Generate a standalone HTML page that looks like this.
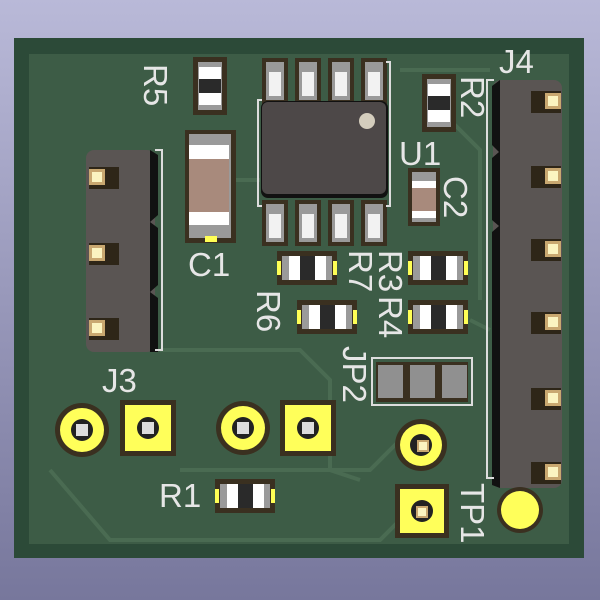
<!DOCTYPE html>
<html><head><meta charset="utf-8"><style>
html,body{margin:0;padding:0;width:600px;height:600px;overflow:hidden}
svg{display:block}
text{font-family:"Liberation Sans",sans-serif;fill:#e6e6e6;font-size:33px}
</style></head><body>
<svg width="600" height="600" viewBox="0 0 600 600">
<defs>
<linearGradient id="bg" x1="0" y1="0" x2="0" y2="1"><stop offset="0" stop-color="#b9b9d8"/><stop offset="1" stop-color="#77779c"/></linearGradient>
<g id="rv"><rect x="0" y="0" width="34" height="58" fill="#3a3020"/><rect x="5" y="5" width="24" height="48" fill="#9a9a9a"/><rect x="6" y="10" width="22" height="12" fill="#fff"/><rect x="6" y="22" width="22" height="14" fill="#2a2a2a"/><rect x="6" y="36" width="22" height="12" fill="#fff"/></g>
<g id="rh"><rect x="0" y="0" width="60" height="34" fill="#3a3020"/><rect x="5" y="5" width="50" height="24" fill="#9a9a9a"/><rect x="12" y="5" width="11" height="24" fill="#fff"/><rect x="23" y="5" width="15" height="24" fill="#2a2a2a"/><rect x="38" y="5" width="11" height="24" fill="#fff"/><rect x="0" y="10" width="4" height="14" fill="#ffff55"/><rect x="56" y="10" width="4" height="14" fill="#ffff55"/></g>
<g id="pin"><rect x="0" y="0" width="26" height="46" fill="#3a3020"/><rect x="4" y="4" width="18" height="38" fill="#9a9a9a"/><rect x="7" y="14" width="12" height="24" fill="#f2f2f2"/></g>
<g id="hp"><rect x="-8" y="-10" width="30" height="22" fill="#2e2618"/><rect x="-8" y="-8" width="16" height="16" fill="#c9a870"/><rect x="-5" y="-5" width="10" height="10" fill="#fbf4c0"/></g>
<g id="hpr"><rect x="-22" y="-10" width="30" height="22" fill="#2e2618"/><rect x="-8" y="-8" width="16" height="16" fill="#c9a870"/><rect x="-5" y="-5" width="10" height="10" fill="#fbf4c0"/></g>
</defs>
<rect width="600" height="600" fill="url(#bg)"/>
<rect x="14" y="38" width="570" height="520" fill="#2c4a38"/>
<rect x="29" y="54" width="540" height="490" fill="#3d5c46"/>
<g stroke="#4a6b52" stroke-width="4" fill="none">
<path d="M160 350 L300 350 L330 380 L330 470 L360 480"/>
<path d="M50 470 L110 540 L380 540 L420 500"/>
<path d="M180 470 L370 470 L400 440"/>
<path d="M236 180 L260 180"/>
<path d="M440 110 L480 150 L480 300"/>
<path d="M470 320 L490 330"/>
<path d="M400 70 L490 70"/>
</g>
<!-- J3 -->
<rect x="86" y="150" width="69" height="202" rx="8" fill="#5a5553"/>
<path d="M150 150 L158 155 L158 215 L150 222 L158 228 L158 285 L150 292 L158 298 L158 352 L150 352 Z" fill="#111"/>
<path d="M155 150 L162 150 L162 350 L155 350" stroke="#ddd" stroke-width="2" fill="none"/>
<use href="#hp" x="97" y="177"/><use href="#hp" x="97" y="253"/><use href="#hp" x="97" y="328"/>
<!-- R5 -->
<use href="#rv" x="193" y="57"/>
<!-- C1 -->
<rect x="185" y="130" width="51" height="113" fill="#3a3020"/>
<rect x="189" y="134" width="42" height="104" fill="#9a9a9a"/>
<rect x="189" y="145" width="40" height="14" fill="#fff"/>
<rect x="189" y="159" width="40" height="53" fill="#a88a7c"/>
<rect x="189" y="212" width="40" height="13" fill="#fff"/>
<rect x="205" y="236" width="12" height="6" fill="#ffff55"/>
<!-- U1 -->
<use href="#pin" x="262" y="58"/><use href="#pin" x="295" y="58"/><use href="#pin" x="328" y="58"/><use href="#pin" x="361" y="58"/>
<use href="#pin" x="262" y="200"/><use href="#pin" x="295" y="200"/><use href="#pin" x="328" y="200"/><use href="#pin" x="361" y="200"/>
<path d="M262 100 L258 100 L258 206 L262 206 M386 62 L390 62 L390 206 L386 206" stroke="#ddd" stroke-width="2" fill="none"/>
<rect x="261" y="101" width="127" height="97" rx="7" fill="#111"/>
<rect x="262" y="102" width="124" height="92" rx="6" fill="#4d4848"/>
<circle cx="367" cy="121" r="8" fill="#d4cdbd"/>
<!-- R2 -->
<use href="#rv" x="422" y="74"/>
<!-- C2 -->
<rect x="408" y="168" width="32" height="58" fill="#3a3020"/>
<rect x="412" y="172" width="24" height="50" fill="#9a9a9a"/>
<rect x="412" y="181" width="24" height="7" fill="#fff"/>
<rect x="412" y="188" width="24" height="23" fill="#a88a7c"/>
<rect x="412" y="211" width="24" height="7" fill="#fff"/>
<!-- R7 R3 R6 R4 -->
<use href="#rh" x="277" y="251"/>
<use href="#rh" x="408" y="251"/>
<use href="#rh" x="297" y="300"/>
<use href="#rh" x="408" y="300"/>
<!-- JP2 -->
<rect x="372" y="358" width="100" height="47" fill="none" stroke="#ddd" stroke-width="2"/>
<rect x="376" y="362" width="92" height="40" fill="#3a3020"/>
<rect x="378" y="365" width="25" height="33" fill="#909090"/>
<rect x="410" y="365" width="25" height="33" fill="#909090"/>
<rect x="442" y="365" width="25" height="33" fill="#909090"/>
<!-- J4 -->
<rect x="493" y="80" width="69" height="408" rx="8" fill="#5a5553"/>
<path d="M500 80 L492 86 L492 145 L499 152 L492 158 L492 220 L499 226 L492 232 L492 485 L500 488 Z" fill="#111"/>
<path d="M494 80 L487 80 L487 478 L494 478" stroke="#ddd" stroke-width="2" fill="none"/>
<use href="#hpr" x="553" y="101"/><use href="#hpr" x="553" y="176"/><use href="#hpr" x="553" y="249"/><use href="#hpr" x="553" y="322"/><use href="#hpr" x="553" y="398"/><use href="#hpr" x="553" y="472"/>
<!-- TP1 -->
<circle cx="520" cy="510" r="23" fill="#3a3020"/><circle cx="520" cy="510" r="19" fill="#ffff5a"/>
<!-- bottom pads -->
<circle cx="82" cy="430" r="27" fill="#3a3020"/><circle cx="82" cy="430" r="22" fill="#ffff5a"/><circle cx="82" cy="430" r="11" fill="#222"/><rect x="76" y="424" width="12" height="12" fill="#ddd"/>
<rect x="120" y="400" width="56" height="56" fill="#3a3020"/><rect x="125" y="405" width="46" height="46" fill="#ffff5a"/><circle cx="148" cy="428" r="11" fill="#222"/><rect x="142" y="422" width="12" height="12" fill="#ddd"/>
<circle cx="243" cy="428" r="27" fill="#3a3020"/><circle cx="243" cy="428" r="22" fill="#ffff5a"/><circle cx="243" cy="428" r="11" fill="#222"/><rect x="237" y="422" width="12" height="12" fill="#ddd"/>
<rect x="280" y="400" width="56" height="56" fill="#3a3020"/><rect x="285" y="405" width="46" height="46" fill="#ffff5a"/><circle cx="308" cy="428" r="11" fill="#222"/><rect x="302" y="422" width="12" height="12" fill="#ddd"/>
<circle cx="421" cy="445" r="26" fill="#3a3020"/><circle cx="421" cy="445" r="21" fill="#ffff5a"/><circle cx="421" cy="445" r="11" fill="#222"/><rect x="417" y="440" width="12" height="12" fill="#c9a870"/><rect x="419" y="442" width="8" height="8" fill="#fbf4c0"/>
<rect x="395" y="484" width="54" height="54" fill="#3a3020"/><rect x="400" y="489" width="44" height="44" fill="#ffff5a"/><circle cx="422" cy="511" r="11" fill="#222"/><rect x="416" y="506" width="12" height="12" fill="#c9a870"/><rect x="418" y="508" width="8" height="8" fill="#fbf4c0"/>
<!-- R1 -->
<use href="#rh" x="215" y="479"/>
<!-- labels -->
<text transform="translate(144,64) rotate(90)">R5</text>
<text x="188" y="276">C1</text>
<text x="102" y="392">J3</text>
<text x="159" y="507">R1</text>
<text transform="translate(257,290) rotate(90)">R6</text>
<text transform="translate(349,250) rotate(90)">R7</text>
<text transform="translate(379,250) rotate(90)">R3</text>
<text transform="translate(379,296) rotate(90)">R4</text>
<text transform="translate(343,346) rotate(90)">JP2</text>
<text x="399" y="165">U1</text>
<text transform="translate(444,176) rotate(90)">C2</text>
<text transform="translate(461,76) rotate(90)">R2</text>
<text x="499" y="73">J4</text>
<text transform="translate(461,483) rotate(90)">TP1</text>
</svg>
</body></html>
